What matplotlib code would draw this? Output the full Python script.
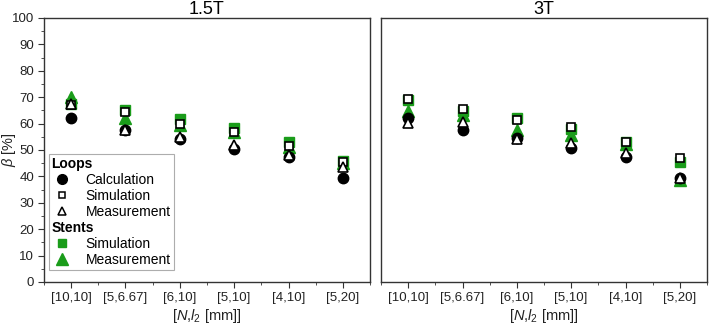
import matplotlib
matplotlib.use("Agg")
import matplotlib.pyplot as plt
from matplotlib.lines import Line2D

plt.rcParams['font.family'] = ['Liberation Sans', 'DejaVu Sans']
plt.rcParams['mathtext.fontset'] = 'custom'
plt.rcParams['mathtext.rm'] = 'Liberation Sans'
plt.rcParams['mathtext.it'] = 'Liberation Sans:italic'

categories = ['[10,10]', '[5,6.67]', '[6,10]', '[5,10]', '[4,10]', '[5,20]']

# 1.5T
loops_calc_15 = [62.3, 57.6, 54.0, 50.3, 47.2, 39.5]
loops_sim_15 = [67.0, 64.3, 59.7, 57.0, 51.5, 45.3]
loops_meas_15 = [67.4, 57.6, 55.0, 51.9, 48.1, 43.7]
stents_sim_15 = [67.5, 65.2, 61.8, 58.2, 53.1, 46.0]
stents_meas_15 = [70.2, 62.0, 59.5, 56.8, 51.0, 45.0]

# 3T
loops_calc_3 = [62.0, 57.6, 54.5, 50.6, 47.5, 39.5]
loops_sim_3 = [69.3, 65.6, 61.4, 58.6, 52.9, 46.8]
loops_meas_3 = [60.3, 60.7, 54.0, 52.5, 49.0, 39.3]
stents_sim_3 = [68.8, 64.6, 62.0, 57.9, 53.0, 45.6]
stents_meas_3 = [64.9, 63.2, 57.6, 55.7, 52.2, 38.5]

green = '#1a9c1a'
spine_c = '#333333'
text_c = '#222222'

fig = plt.figure(figsize=(7.09, 3.25), dpi=100)
ax1 = fig.add_axes([44/709, 1-282/325, 326/709, 264/325])
ax2 = fig.add_axes([381/709, 1-282/325, 326/709, 264/325])

x = list(range(len(categories)))

def draw(ax, lc, ls, lm, ss, sm):
    ax.plot(x, ss, 's', color=green, ms=6.5, mec=green, zorder=2)
    ax.plot(x, sm, '^', color=green, ms=8, mec=green, zorder=2)
    ax.plot(x, lc, 'o', color='black', ms=7.5, zorder=3)
    ax.plot(x, ls, 's', mfc='white', mec='black', mew=1.2, ms=6, zorder=4)
    ax.plot(x, lm, '^', mfc='white', mec='black', mew=1.2, ms=7, zorder=4)
    ax.set_xlim(-0.5, 5.5)
    ax.set_ylim(0, 100)
    ax.set_xticks(x)
    ax.set_xticklabels(categories, fontsize=9.5, color=text_c)
    ax.set_xticks([i + 0.5 for i in range(-1, 6)], minor=True)
    ax.set_xlabel(r'[$\mathit{N}$,$\mathit{l}_2$ [mm]]', fontsize=10.5, color=text_c, labelpad=2.5)
    for s in ax.spines.values():
        s.set_color(spine_c)
        s.set_linewidth(1.0)
    ax.tick_params(axis='both', which='major', direction='out', length=4, color=spine_c,
                   top=False, right=False, pad=3)
    ax.tick_params(axis='both', which='minor', direction='out', length=2.5, color=spine_c,
                   top=False, right=False)

draw(ax1, loops_calc_15, loops_sim_15, loops_meas_15, stents_sim_15, stents_meas_15)
draw(ax2, loops_calc_3, loops_sim_3, loops_meas_3, stents_sim_3, stents_meas_3)

ax1.set_yticks(range(0, 101, 10))
ax1.set_yticks(range(5, 100, 10), minor=True)
ax1.tick_params(axis='y', labelsize=9.5, labelcolor=text_c)
ax1.set_ylabel(r'$\beta$ [%]', fontsize=10.5, color=text_c)
ax1.yaxis.set_label_coords(-0.08, 0.5)
ax2.set_yticks([])
ax2.tick_params(axis='y', which='both', left=False, labelleft=False)

ax1.set_title('1.5T', fontsize=13, pad=2)
ax2.set_title('3T', fontsize=13, pad=2)

blank = Line2D([], [], linestyle='none', marker=None)
handles = [
    blank,
    Line2D([], [], linestyle='none', marker='o', color='black', ms=7),
    Line2D([], [], linestyle='none', marker='s', mfc='white', mec='black', mew=1.1, ms=5),
    Line2D([], [], linestyle='none', marker='^', mfc='white', mec='black', mew=1.1, ms=6),
    blank,
    Line2D([], [], linestyle='none', marker='s', color=green, ms=6),
    Line2D([], [], linestyle='none', marker='^', color=green, ms=8),
]
labels = ['Loops', 'Calculation', 'Simulation', 'Measurement', 'Stents', 'Simulation', 'Measurement']
leg = ax1.legend(handles, labels, loc='lower left', bbox_to_anchor=(5/326, 12/264),
                 fontsize=10, frameon=True, fancybox=False, edgecolor='#999999',
                 handlelength=1.5, handletextpad=0.9, borderpad=0.22, labelspacing=0.14,
                 borderaxespad=0)
leg.get_frame().set_linewidth(0.8)
for i, t in enumerate(leg.get_texts()):
    if labels[i] in ('Loops', 'Stents'):
        t.set_fontweight('bold')
        t.set_position((-34, 0))

fig.savefig('out.png', dpi=100)
